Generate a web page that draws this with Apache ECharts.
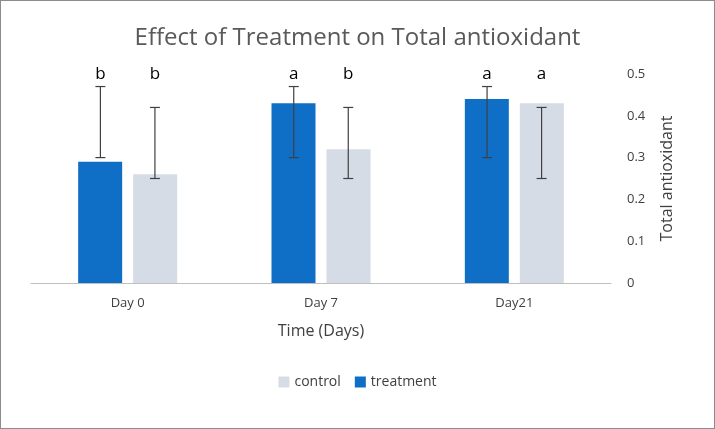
<!DOCTYPE html>
<html lang="en">
<head>
<meta charset="UTF-8">
<title>Effect of Treatment on Total antioxidant</title>
<script src="https://cdn.jsdelivr.net/npm/echarts@6/dist/echarts.min.js"></script>
<style>
  html, body { margin: 0; padding: 0; background: #fff; }
  #main { width: 713px; height: 427px; border: 1px solid #8c8c8c; }
</style>
</head>
<body>
<div id="main"></div>
<script type="text/javascript">
    // data
    var days = ['Day 0', 'Day 7', 'Day21'];
    var treatment = [0.29, 0.43, 0.44];
    var control = [0.26, 0.32, 0.43];
    var treatmentErrLow = [0.30, 0.30, 0.30];
    var treatmentErrHigh = [0.47, 0.47, 0.47];
    var controlErrLow = [0.25, 0.25, 0.25];
    var controlErrHigh = [0.42, 0.42, 0.42];
    var treatmentLetters = ['b', 'a', 'a'];
    var controlLetters = ['b', 'b', 'a'];

    var myChart = echarts.init(document.getElementById('main'));
    var font = 'Open Sans';

    // error bar + letter drawer, side = -1 for treatment, +1 for control
    function errRender(low, high, letters, side) {
        return function (params, api) {
            var i = api.value(0);
            var shift = api.size([1, 0])[0] * 0.141 * side;
            var lo = api.coord([i, low[i]]);
            var hi = api.coord([i, high[i]]);
            var top = api.coord([i, 0.5]);
            var x = lo[0] + shift;
            var st = { stroke: '#404040', lineWidth: 1.2 };
            return {
                type: 'group',
                children: [
                    { type: 'line', shape: { x1: x, y1: lo[1], x2: x, y2: hi[1] }, style: st },
                    { type: 'line', shape: { x1: x - 5, y1: lo[1], x2: x + 5, y2: lo[1] }, style: st },
                    { type: 'line', shape: { x1: x - 5, y1: hi[1], x2: x + 5, y2: hi[1] }, style: st },
                    { type: 'text', style: { x: x, y: top[1], text: letters[i], align: 'center',
                        verticalAlign: 'middle', fill: '#000', font: '17px ' + font } }
                ]
            };
        };
    }

    var option = {
        animation: false,
        title: {
            text: 'Effect of Treatment on Total antioxidant',
            left: 'center', top: 20,
            textStyle: { fontFamily: font, fontSize: 24, fontWeight: 'normal', color: '#595959' }
        },
        legend: {
            data: ['control', 'treatment'],
            bottom: 34, itemWidth: 11, itemHeight: 11, itemGap: 14,
            icon: 'rect',
            textStyle: { fontFamily: font, fontSize: 14, color: '#404040' }
        },
        grid: { left: 30, right: 103, top: 73, bottom: 145 },
        xAxis: {
            type: 'category', data: days,
            name: 'Time (Days)', nameLocation: 'middle', nameGap: 40,
            nameTextStyle: { fontFamily: font, fontSize: 16, color: '#404040' },
            axisLine: { lineStyle: { color: '#bfbfbf' } },
            axisTick: { show: false },
            axisLabel: { fontFamily: font, fontSize: 13, color: '#404040', margin: 14 }
        },
        yAxis: {
            type: 'value', position: 'right', min: 0, max: 0.5, interval: 0.1,
            name: 'Total antioxidant', nameLocation: 'middle', nameGap: 48, nameRotate: 90,
            nameTextStyle: { fontFamily: font, fontSize: 16, color: '#404040' },
            splitLine: { show: false },
            axisLine: { show: false },
            axisLabel: { fontFamily: font, fontSize: 13, color: '#404040', margin: 16 }
        },
        series: [
            { name: 'treatment', type: 'bar', data: treatment, barWidth: 44, barGap: '25%',
              itemStyle: { color: '#0F6FC6' } },
            { name: 'control', type: 'bar', data: control, barWidth: 44,
              itemStyle: { color: '#D6DCE5' } },
            { type: 'custom', data: [0, 1, 2], z: 10, silent: true,
              renderItem: errRender(treatmentErrLow, treatmentErrHigh, treatmentLetters, -1) },
            { type: 'custom', data: [0, 1, 2], z: 10, silent: true,
              renderItem: errRender(controlErrLow, controlErrHigh, controlLetters, 1) }
        ]
    };
    myChart.setOption(option);
</script>
</body>
</html>
